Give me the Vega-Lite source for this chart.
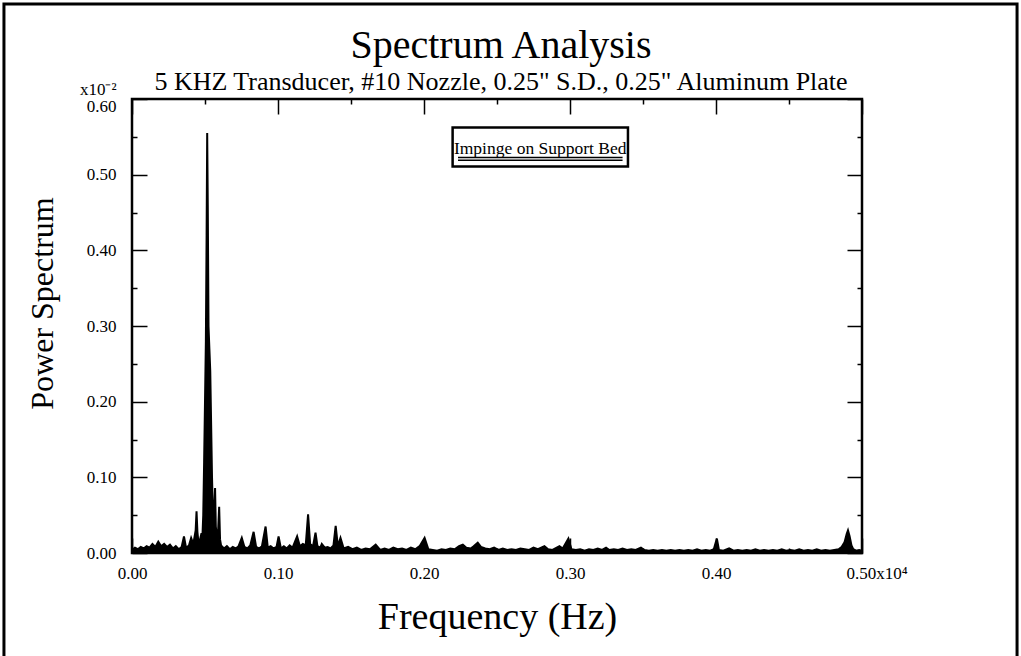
{
  "$schema": "https://vega.github.io/schema/vega-lite/v6.json",
  "width": 730,
  "height": 454,
  "autosize": {"type": "none"},
  "padding": {"left": 132, "top": 99, "right": 159, "bottom": 103},
  "background": "white",
  "config": {
    "font": "Liberation Serif",
    "view": {"stroke": "black", "strokeWidth": 2.5},
    "axis": {
      "domain": false,
      "grid": false,
      "labelColor": "black",
      "titleColor": "black",
      "tickColor": "black",
      "tickWidth": 1.5,
      "labelFont": "Liberation Serif",
      "titleFont": "Liberation Serif",
      "titleFontWeight": "normal",
      "labelOverlap": false,
      "labelBound": false
    }
  },
  "title": {
    "text": "Spectrum Analysis",
    "subtitle": "5 KHZ Transducer, #10 Nozzle, 0.25\" S.D., 0.25\" Aluminum Plate",
    "font": "Liberation Serif",
    "fontSize": 40,
    "fontWeight": "normal",
    "color": "black",
    "subtitleFont": "Liberation Serif",
    "subtitleFontSize": 26,
    "subtitleColor": "black",
    "subtitlePadding": 3,
    "offset": -92,
    "anchor": "middle",
    "dx": 4
  },
  "datasets": {
    "spectrum": [
      {"freq": 0.000, "power": 0.004}, {"freq": 0.002, "power": 0.007}, {"freq": 0.004, "power": 0.005},
      {"freq": 0.006, "power": 0.008}, {"freq": 0.008, "power": 0.006}, {"freq": 0.010, "power": 0.009},
      {"freq": 0.012, "power": 0.007}, {"freq": 0.014, "power": 0.012}, {"freq": 0.016, "power": 0.008},
      {"freq": 0.018, "power": 0.015}, {"freq": 0.020, "power": 0.009}, {"freq": 0.022, "power": 0.012},
      {"freq": 0.024, "power": 0.008}, {"freq": 0.026, "power": 0.011}, {"freq": 0.028, "power": 0.006},
      {"freq": 0.030, "power": 0.009}, {"freq": 0.032, "power": 0.005}, {"freq": 0.034, "power": 0.008},
      {"freq": 0.0356, "power": 0.022}, {"freq": 0.037, "power": 0.007}, {"freq": 0.039, "power": 0.010},
      {"freq": 0.0405, "power": 0.020}, {"freq": 0.042, "power": 0.012}, {"freq": 0.0436, "power": 0.030},
      {"freq": 0.0442, "power": 0.055}, {"freq": 0.0448, "power": 0.028}, {"freq": 0.0456, "power": 0.012},
      {"freq": 0.0466, "power": 0.018}, {"freq": 0.0476, "power": 0.026}, {"freq": 0.0482, "power": 0.020},
      {"freq": 0.0488, "power": 0.050}, {"freq": 0.0494, "power": 0.120}, {"freq": 0.0500, "power": 0.200},
      {"freq": 0.0506, "power": 0.280}, {"freq": 0.0511, "power": 0.420}, {"freq": 0.0515, "power": 0.555},
      {"freq": 0.0519, "power": 0.460}, {"freq": 0.0524, "power": 0.300}, {"freq": 0.0530, "power": 0.270},
      {"freq": 0.0536, "power": 0.240}, {"freq": 0.0542, "power": 0.170}, {"freq": 0.0548, "power": 0.100},
      {"freq": 0.0554, "power": 0.055}, {"freq": 0.0560, "power": 0.035}, {"freq": 0.0566, "power": 0.070},
      {"freq": 0.0569, "power": 0.086}, {"freq": 0.0574, "power": 0.035}, {"freq": 0.0580, "power": 0.025},
      {"freq": 0.0590, "power": 0.030}, {"freq": 0.0597, "power": 0.061}, {"freq": 0.0603, "power": 0.018},
      {"freq": 0.061, "power": 0.010}, {"freq": 0.063, "power": 0.006}, {"freq": 0.065, "power": 0.009},
      {"freq": 0.067, "power": 0.005}, {"freq": 0.069, "power": 0.008}, {"freq": 0.071, "power": 0.006},
      {"freq": 0.073, "power": 0.009}, {"freq": 0.0752, "power": 0.020}, {"freq": 0.077, "power": 0.008},
      {"freq": 0.079, "power": 0.006}, {"freq": 0.081, "power": 0.010}, {"freq": 0.0833, "power": 0.028},
      {"freq": 0.085, "power": 0.008}, {"freq": 0.087, "power": 0.006}, {"freq": 0.089, "power": 0.009},
      {"freq": 0.0915, "power": 0.035}, {"freq": 0.093, "power": 0.007}, {"freq": 0.095, "power": 0.009},
      {"freq": 0.097, "power": 0.006}, {"freq": 0.099, "power": 0.008}, {"freq": 0.1004, "power": 0.022},
      {"freq": 0.102, "power": 0.006}, {"freq": 0.104, "power": 0.009}, {"freq": 0.106, "power": 0.006},
      {"freq": 0.108, "power": 0.010}, {"freq": 0.110, "power": 0.007}, {"freq": 0.1131, "power": 0.022},
      {"freq": 0.115, "power": 0.009}, {"freq": 0.117, "power": 0.012}, {"freq": 0.119, "power": 0.010},
      {"freq": 0.1206, "power": 0.051}, {"freq": 0.122, "power": 0.012}, {"freq": 0.124, "power": 0.009},
      {"freq": 0.1257, "power": 0.027}, {"freq": 0.127, "power": 0.009}, {"freq": 0.129, "power": 0.007},
      {"freq": 0.130, "power": 0.012}, {"freq": 0.132, "power": 0.007}, {"freq": 0.134, "power": 0.008},
      {"freq": 0.136, "power": 0.006}, {"freq": 0.138, "power": 0.010}, {"freq": 0.1395, "power": 0.036},
      {"freq": 0.141, "power": 0.009}, {"freq": 0.1428, "power": 0.020}, {"freq": 0.145, "power": 0.006},
      {"freq": 0.148, "power": 0.008}, {"freq": 0.151, "power": 0.005}, {"freq": 0.154, "power": 0.007},
      {"freq": 0.157, "power": 0.004}, {"freq": 0.160, "power": 0.006}, {"freq": 0.163, "power": 0.005},
      {"freq": 0.1669, "power": 0.011}, {"freq": 0.170, "power": 0.004}, {"freq": 0.173, "power": 0.006},
      {"freq": 0.176, "power": 0.004}, {"freq": 0.179, "power": 0.007}, {"freq": 0.182, "power": 0.005},
      {"freq": 0.185, "power": 0.006}, {"freq": 0.188, "power": 0.004}, {"freq": 0.191, "power": 0.007},
      {"freq": 0.194, "power": 0.005}, {"freq": 0.197, "power": 0.009}, {"freq": 0.2004, "power": 0.020},
      {"freq": 0.203, "power": 0.005}, {"freq": 0.206, "power": 0.004}, {"freq": 0.209, "power": 0.003},
      {"freq": 0.212, "power": 0.005}, {"freq": 0.215, "power": 0.004}, {"freq": 0.218, "power": 0.006},
      {"freq": 0.221, "power": 0.005}, {"freq": 0.224, "power": 0.009}, {"freq": 0.2266, "power": 0.011},
      {"freq": 0.229, "power": 0.007}, {"freq": 0.232, "power": 0.006}, {"freq": 0.234, "power": 0.009},
      {"freq": 0.2368, "power": 0.0137}, {"freq": 0.239, "power": 0.008}, {"freq": 0.242, "power": 0.006},
      {"freq": 0.245, "power": 0.005}, {"freq": 0.248, "power": 0.007}, {"freq": 0.251, "power": 0.004},
      {"freq": 0.254, "power": 0.006}, {"freq": 0.257, "power": 0.004}, {"freq": 0.260, "power": 0.005},
      {"freq": 0.263, "power": 0.004}, {"freq": 0.266, "power": 0.006}, {"freq": 0.269, "power": 0.005},
      {"freq": 0.272, "power": 0.004}, {"freq": 0.275, "power": 0.007}, {"freq": 0.278, "power": 0.005},
      {"freq": 0.2825, "power": 0.009}, {"freq": 0.285, "power": 0.005}, {"freq": 0.288, "power": 0.004},
      {"freq": 0.2928, "power": 0.009}, {"freq": 0.295, "power": 0.006}, {"freq": 0.2989, "power": 0.019},
      {"freq": 0.301, "power": 0.005}, {"freq": 0.304, "power": 0.004}, {"freq": 0.307, "power": 0.005},
      {"freq": 0.310, "power": 0.003}, {"freq": 0.313, "power": 0.005}, {"freq": 0.316, "power": 0.004},
      {"freq": 0.319, "power": 0.006}, {"freq": 0.322, "power": 0.004}, {"freq": 0.3247, "power": 0.007},
      {"freq": 0.327, "power": 0.004}, {"freq": 0.330, "power": 0.005}, {"freq": 0.333, "power": 0.004},
      {"freq": 0.336, "power": 0.006}, {"freq": 0.339, "power": 0.004}, {"freq": 0.342, "power": 0.005},
      {"freq": 0.345, "power": 0.004}, {"freq": 0.3486, "power": 0.007}, {"freq": 0.351, "power": 0.004},
      {"freq": 0.354, "power": 0.003}, {"freq": 0.357, "power": 0.004}, {"freq": 0.360, "power": 0.003},
      {"freq": 0.363, "power": 0.004}, {"freq": 0.366, "power": 0.003}, {"freq": 0.369, "power": 0.004},
      {"freq": 0.372, "power": 0.003}, {"freq": 0.375, "power": 0.004}, {"freq": 0.378, "power": 0.003},
      {"freq": 0.381, "power": 0.004}, {"freq": 0.384, "power": 0.003}, {"freq": 0.387, "power": 0.005},
      {"freq": 0.390, "power": 0.003}, {"freq": 0.393, "power": 0.004}, {"freq": 0.396, "power": 0.003},
      {"freq": 0.3985, "power": 0.005}, {"freq": 0.4006, "power": 0.019}, {"freq": 0.402, "power": 0.004},
      {"freq": 0.405, "power": 0.003}, {"freq": 0.409, "power": 0.006}, {"freq": 0.412, "power": 0.003},
      {"freq": 0.415, "power": 0.004}, {"freq": 0.418, "power": 0.003}, {"freq": 0.421, "power": 0.004},
      {"freq": 0.424, "power": 0.003}, {"freq": 0.427, "power": 0.005}, {"freq": 0.430, "power": 0.003},
      {"freq": 0.433, "power": 0.004}, {"freq": 0.436, "power": 0.003}, {"freq": 0.439, "power": 0.004},
      {"freq": 0.442, "power": 0.003}, {"freq": 0.445, "power": 0.005}, {"freq": 0.448, "power": 0.003},
      {"freq": 0.451, "power": 0.004}, {"freq": 0.454, "power": 0.003}, {"freq": 0.457, "power": 0.005},
      {"freq": 0.460, "power": 0.003}, {"freq": 0.463, "power": 0.004}, {"freq": 0.466, "power": 0.003},
      {"freq": 0.469, "power": 0.005}, {"freq": 0.472, "power": 0.003}, {"freq": 0.475, "power": 0.004},
      {"freq": 0.478, "power": 0.003}, {"freq": 0.481, "power": 0.004}, {"freq": 0.484, "power": 0.005},
      {"freq": 0.486, "power": 0.008}, {"freq": 0.488, "power": 0.014}, {"freq": 0.4895, "power": 0.025},
      {"freq": 0.4904, "power": 0.030}, {"freq": 0.4915, "power": 0.022}, {"freq": 0.4928, "power": 0.010},
      {"freq": 0.494, "power": 0.005}, {"freq": 0.496, "power": 0.003}, {"freq": 0.498, "power": 0.004},
      {"freq": 0.500, "power": 0.003}
    ]
  },
  "layer": [
    {
      "data": {"name": "spectrum"},
      "mark": {"type": "area", "color": "black"},
      "encoding": {
        "x": {
          "field": "freq", "type": "quantitative",
          "scale": {"domain": [0, 0.5], "nice": false, "zero": false},
          "axis": {
            "orient": "bottom",
            "values": [0, 0.05, 0.1, 0.15, 0.2, 0.25, 0.3, 0.35, 0.4, 0.45, 0.5],
            "labelExpr": "round(datum.value*100) % 10 != 0 ? '' : (datum.value > 0.49 ? '0.50x10⁴' : format(datum.value, '.2f'))",
            "labelAlign": {"condition": {"test": "datum.value > 0.49", "value": "left"}, "value": "center"},
            "labelOffset": {"condition": {"test": "datum.value > 0.49", "value": -16}, "value": 0},
            "labelFontSize": 17,
            "labelPadding": 27,
            "tickSize": {"condition": {"test": "round(datum.value*100) % 10 == 0", "value": -15}, "value": -5},
            "title": "Frequency (Hz)",
            "titleFontSize": 38,
            "titlePadding": 7
          }
        },
        "y": {
          "field": "power", "type": "quantitative",
          "scale": {"domain": [0, 0.6], "nice": false, "zero": false},
          "axis": {
            "orient": "left",
            "values": [0, 0.05, 0.1, 0.15, 0.2, 0.25, 0.3, 0.35, 0.4, 0.45, 0.5, 0.55, 0.6],
            "labelExpr": "round(datum.value*100) % 10 != 0 ? '' : (datum.value > 0.59 ? ['x10⁻²', '0.60'] : format(datum.value, '.2f'))",
            "labelFontSize": 17,
            "labelLineHeight": 17,
            "labelBaseline": {"condition": {"test": "datum.value > 0.59", "value": "bottom"}, "value": "middle"},
            "labelOffset": {"condition": {"test": "datum.value > 0.59", "value": -1}, "value": 0},
            "labelPadding": 31,
            "tickSize": {"condition": {"test": "round(datum.value*100) % 10 == 0", "value": -15}, "value": -5},
            "title": "Power Spectrum",
            "titleFontSize": 32,
            "titlePadding": 20,
            "titleY": 204
          }
        }
      }
    },
    {
      "data": {"name": "spectrum"},
      "mark": {"type": "line", "color": "black", "strokeWidth": 2},
      "encoding": {
        "x": {
          "field": "freq", "type": "quantitative",
          "scale": {"domain": [0, 0.5], "nice": false, "zero": false},
          "axis": {
            "orient": "top",
            "values": [0, 0.05, 0.1, 0.15, 0.2, 0.25, 0.3, 0.35, 0.4, 0.45, 0.5],
            "labels": false,
            "tickSize": {"condition": {"test": "round(datum.value*100) % 10 == 0", "value": -15}, "value": -5},
            "title": null
          }
        },
        "y": {
          "field": "power", "type": "quantitative",
          "scale": {"domain": [0, 0.6], "nice": false, "zero": false},
          "axis": {
            "orient": "right",
            "values": [0, 0.05, 0.1, 0.15, 0.2, 0.25, 0.3, 0.35, 0.4, 0.45, 0.5, 0.55, 0.6],
            "labels": false,
            "tickSize": {"condition": {"test": "round(datum.value*100) % 10 == 0", "value": -15}, "value": -5},
            "title": null
          }
        }
      }
    },
    {
      "data": {"values": [{}]},
      "mark": {"type": "rect", "fill": "transparent", "stroke": "black", "strokeWidth": 3},
      "encoding": {
        "x": {"datum": -0.0877, "type": "quantitative", "scale": {"domain": [0, 0.5], "nice": false, "zero": false}, "axis": null},
        "x2": {"datum": 0.6062},
        "y": {"datum": 0.7255, "type": "quantitative", "scale": {"domain": [0, 0.6], "nice": false, "zero": false}, "axis": null},
        "y2": {"datum": -0.16}
      }
    },
    {
      "data": {"values": [{}]},
      "mark": {"type": "rect", "fill": "white", "stroke": "black", "strokeWidth": 2.5},
      "encoding": {
        "x": {"datum": 0.2196, "type": "quantitative", "scale": {"domain": [0, 0.5], "nice": false, "zero": false}, "axis": null},
        "x2": {"datum": 0.3397},
        "y": {"datum": 0.5625, "type": "quantitative", "scale": {"domain": [0, 0.6], "nice": false, "zero": false}, "axis": null},
        "y2": {"datum": 0.5109}
      }
    },
    {
      "data": {"values": [{"y": 0.5226}, {"y": 0.5192}]},
      "mark": {"type": "rule", "color": "black", "strokeWidth": 1.5},
      "encoding": {
        "x": {"datum": 0.2233, "type": "quantitative", "scale": {"domain": [0, 0.5], "nice": false, "zero": false}, "axis": null},
        "x2": {"datum": 0.3360},
        "y": {"field": "y", "type": "quantitative", "scale": {"domain": [0, 0.6], "nice": false, "zero": false}, "axis": null}
      }
    },
    {
      "data": {"values": [{"label": "Impinge on Support Bed"}]},
      "mark": {"type": "text", "font": "Liberation Serif", "fontSize": 17.5, "baseline": "alphabetic", "align": "center", "color": "black"},
      "encoding": {
        "x": {"datum": 0.2796, "type": "quantitative", "scale": {"domain": [0, 0.5], "nice": false, "zero": false}, "axis": null},
        "y": {"datum": 0.5275, "type": "quantitative", "scale": {"domain": [0, 0.6], "nice": false, "zero": false}, "axis": null},
        "text": {"field": "label"}
      }
    }
  ],
  "resolve": {"axis": {"x": "independent", "y": "independent"}}
}
